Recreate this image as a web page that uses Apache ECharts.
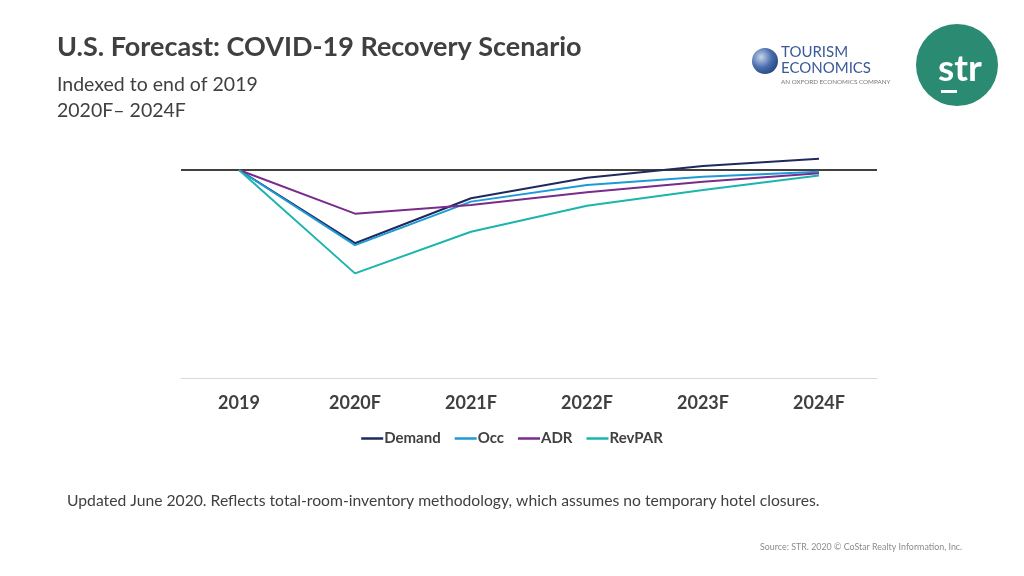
<!DOCTYPE html>
<html><head><meta charset="utf-8">
<script src="https://cdn.jsdelivr.net/npm/echarts@6/dist/echarts.min.js"></script>
<style>html,body{margin:0;padding:0;background:#fff}#c{width:1024px;height:576px}</style>
</head><body><div id="c"></div>
<script>
const categories = ['2019','2020F','2021F','2022F','2023F','2024F'];
const demand = [100, 64.8, 86.4, 96.3, 101.9, 105.4];
const occ    = [100, 63.9, 84.8, 92.8, 96.8, 99.2];
const adr    = [100, 79.0, 83.2, 89.3, 94.4, 98.4];
const revpar = [100, 50.3, 70.3, 82.8, 90.4, 97.3];
const baseline = 100;

const font = 'Lato, "Open Sans", sans-serif';
const chart = echarts.init(document.getElementById('c'), null, {renderer:'canvas'});
function line(name, data, color){
  return {name, type:'line', data, symbol:'none', lineStyle:{color, width:2}, itemStyle:{color}, z:3};
}
const s = [
  line('Demand', demand, '#1f2a5c'),
  line('Occ', occ, '#1e9ad6'),
  line('ADR', adr, '#7a2c8c'),
  line('RevPAR', revpar, '#1bb5ad')
];
s[0].markLine = {silent:true, symbol:'none', label:{show:false},
  lineStyle:{color:'#000', width:1.5, type:'solid'}, data:[{yAxis: baseline}], z:2};
chart.setOption({
  animation:false,
  textStyle:{fontFamily:font},
  grid:{left:181, width:696, top:128.4, height:249.6},
  xAxis:{type:'category', data:categories, boundaryGap:true,
    axisLine:{lineStyle:{color:'#d9d9d9', width:1}}, axisTick:{show:false},
    axisLabel:{fontSize:18, fontWeight:'bold', color:'#404040', margin:16, fontFamily:font}},
  yAxis:{type:'value', min:0, max:120, show:false, splitLine:{show:false}},
  legend:{data:['Demand','Occ','ADR','RevPAR'], left:'center', top:426, icon:'rect',
    itemWidth:22, itemHeight:2.5, itemGap:14,
    textStyle:{fontSize:15, fontWeight:'bold', color:'#404040', fontFamily:font, padding:[0,0,0,-4]}},
  series:s,
  graphic:[
    {type:'text', left:57, top:34, style:{text:'U.S. Forecast: COVID-19 Recovery Scenario', font:'bold 27px '+font, fill:'#404040'}},
    {type:'text', left:57, top:75, style:{text:'Indexed to end of 2019', font:'19.5px '+font, fill:'#404040'}},
    {type:'text', left:57, top:101, style:{text:'2020F\u2013 2024F', font:'19.5px '+font, fill:'#404040'}},
    {type:'text', left:67, top:493, style:{text:'Updated June 2020. Reflects total-room-inventory methodology, which assumes no temporary hotel closures.', font:'15.7px '+font, fill:'#404040'}},
    {type:'text', left:760, top:543, style:{text:'Source: STR. 2020 \u00A9 CoStar Realty Information, Inc.', font:'8.9px '+font, fill:'#8c8c8c'}},
    // STR logo
    {type:'circle', shape:{cx:957, cy:65, r:41}, style:{fill:'#2b8a72'}},
    {type:'text', x:960, y:69, style:{text:'str', font:'bold 37px '+font, fill:'#fff', align:'center', verticalAlign:'middle'}},
    {type:'rect', shape:{x:941, y:90, width:16, height:3}, style:{fill:'#fff'}},
    // Tourism Economics logo
    {type:'circle', shape:{cx:765, cy:61, r:13}, style:{fill:{type:'radial', x:0.35, y:0.35, r:0.8, colorStops:[{offset:0,color:'#c9d6ea'},{offset:0.5,color:'#4b6fae'},{offset:1,color:'#1d3a78'}]}}},
    {type:'text', left:781, top:45, style:{text:'TOURISM', font:'15px '+font, fill:'#3a5a98'}},
    {type:'text', left:781, top:61, style:{text:'ECONOMICS', font:'15px '+font, fill:'#3a5a98'}},
    {type:'text', left:781, top:79, style:{text:'AN OXFORD ECONOMICS COMPANY', font:'6.3px '+font, fill:'#777'}}
  ]
});
</script></body></html>
